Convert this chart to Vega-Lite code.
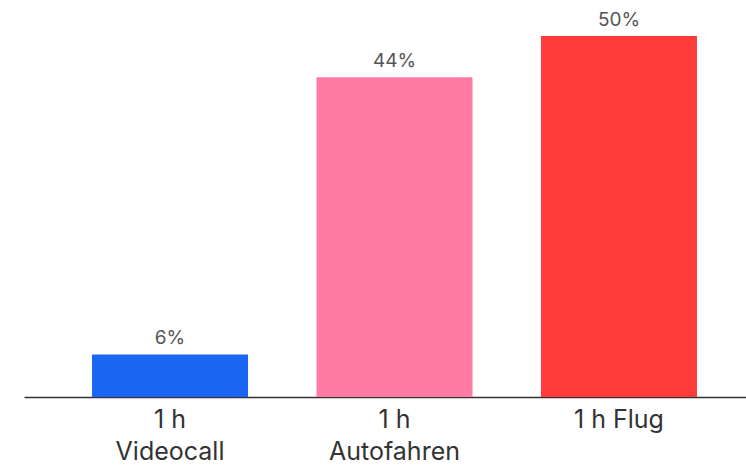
{
  "$schema": "https://vega.github.io/schema/vega-lite/v6.json",
  "autosize": {"type": "none"},
  "width": 741,
  "height": 361,
  "padding": {"left": 24, "top": 36, "right": 0, "bottom": 69},
  "background": "white",
  "config": {"view": {"stroke": null}, "font": "Inter"},
  "data": {"values": [
    {"category": "1 h Videocall", "value": 5.9, "label": "6%"},
    {"category": "1 h Autofahren", "value": 44.3, "label": "44%"},
    {"category": "1 h Flug", "value": 50, "label": "50%"}
  ]},
  "encoding": {
    "x": {"field": "category", "type": "nominal", "sort": null,
      "scale": {"paddingInner": 0.305, "paddingOuter": 0.303},
      "axis": {"title": null, "labelAngle": 0, "ticks": false, "domainColor": "#333333", "domainWidth": 1.5,
        "labelFont": "Inter", "labelFontSize": 25, "labelColor": "#333333", "labelPadding": 10, "labelLineHeight": 32,
        "labelExpr": "datum.value == '1 h Flug' ? datum.value : ['1 h', substring(datum.value, 4)]"}},
    "y": {"field": "value", "type": "quantitative", "scale": {"domain": [0, 50]}, "axis": null}
  },
  "layer": [
    {"mark": {"type": "bar"},
     "encoding": {"color": {"field": "category", "type": "nominal", "legend": null,
       "scale": {"domain": ["1 h Videocall", "1 h Autofahren", "1 h Flug"], "range": ["#1a66f2", "#ff7ba3", "#ff3b3b"]}}}},
    {"mark": {"type": "text", "baseline": "bottom", "dy": -6, "fontSize": 19, "color": "#555555", "font": "Inter"},
     "encoding": {"text": {"field": "label"}}}
  ]
}
